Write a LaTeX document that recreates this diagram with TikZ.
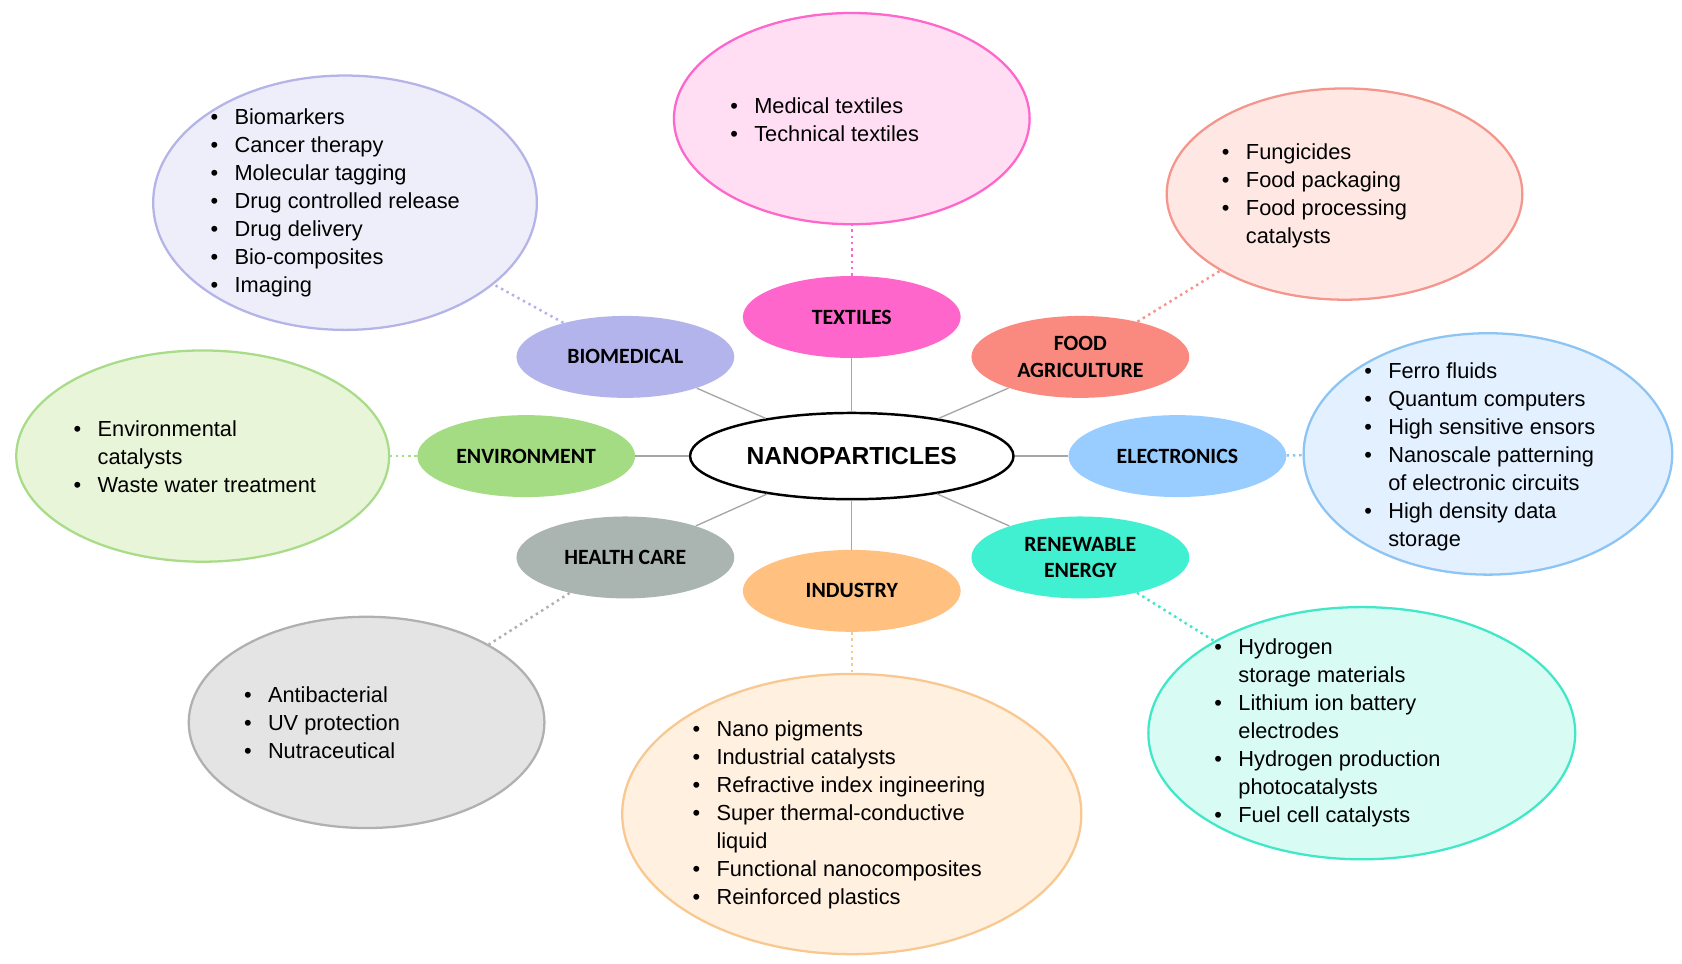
\documentclass[tikz,border=0pt]{standalone}
\usepackage{fontspec}
\setmainfont{Liberation Sans}
\newfontfamily\lab{Carlito}
\usetikzlibrary{shapes.geometric}
\definecolor{fB}{HTML}{EEEEFA}\definecolor{dB}{HTML}{B4B4E8}\definecolor{sBc}{HTML}{B4B4EC}
\definecolor{fT}{HTML}{FFDDF3}\definecolor{dT}{HTML}{FF66CC}\definecolor{sTc}{HTML}{FF66CC}
\definecolor{fF}{HTML}{FFE8E4}\definecolor{dF}{HTML}{F4968C}\definecolor{sFc}{HTML}{FA8A80}
\definecolor{fE}{HTML}{E2F0FF}\definecolor{dE}{HTML}{8CC4F4}\definecolor{sEc}{HTML}{99CCFF}
\definecolor{fV}{HTML}{E8F5D8}\definecolor{dV}{HTML}{A8DC88}\definecolor{sVc}{HTML}{A4DC84}
\definecolor{fH}{HTML}{E4E4E4}\definecolor{dH}{HTML}{B0B0B0}\definecolor{sHc}{HTML}{AAB4B0}
\definecolor{fI}{HTML}{FFF0E0}\definecolor{dI}{HTML}{F8C890}\definecolor{sIc}{HTML}{FFC080}
\definecolor{fR}{HTML}{D8FCF4}\definecolor{dR}{HTML}{40E8C8}\definecolor{sRc}{HTML}{40F0D0}
\newcommand\bu{\textbullet\hspace{0.75em}}
\newcommand\ind{\phantom{\textbullet}\hspace{0.75em}}
\begin{document}
\begin{tikzpicture}[x=0.02cm,y=-0.02cm,
 E/.style args={#1/#2/#3/#4}{ellipse,draw=#4,fill=#3,line width=1.2pt,minimum width=#1*0.04cm,minimum height=#2*0.04cm,inner sep=0pt},
 sm/.style={ellipse,minimum width=202*0.02cm,minimum height=76*0.02cm,inner sep=0pt,font=\lab\bfseries\fontsize{11.5}{14}\selectfont,align=center},
 lst/.style={anchor=west,align=left,font=\fontsize{11.5}{14.8}\selectfont,inner sep=0pt},
 con/.style={draw=gray!70,line width=0.7pt},
 dot/.style={dotted,line width=1.3pt}]
\useasboundingbox (0,0) rectangle (1560,894);
\fill[white] (0,0) rectangle (1560,894);
% big ellipses
\node[E=178/118/fB/dB] (bB) at (320,188) {};
\node[E=165/98/fT/dT] (bT) at (790,110) {};
\node[E=165/98/fF/dF] (bF) at (1247,180) {};
\node[E=171/112/fE/dE] (bE) at (1380,421) {};
\node[E=173/98/fV/dV] (bV) at (188,423) {};
\node[E=165/98/fH/dH] (bH) at (340,670) {};
\node[E=213/130/fI/dI] (bI) at (790,755) {};
\node[E=198/117/fR/dR] (bR) at (1263,680) {};
% small
\node[sm,fill=sBc] (sB) at (580,331) {BIOMEDICAL};
\node[sm,fill=sTc] (sT) at (790,294) {TEXTILES};
\node[sm,fill=sFc] (sF) at (1002,331) {FOOD\\AGRICULTURE};
\node[sm,fill=sVc] (sV) at (488,423) {ENVIRONMENT};
\node[sm,fill=sEc] (sE) at (1092,423) {ELECTRONICS};
\node[sm,fill=sHc] (sH) at (580,517) {HEALTH CARE};
\node[sm,fill=sIc] (sI) at (790,548) {INDUSTRY};
\node[sm,fill=sRc] (sR) at (1002,517) {RENEWABLE\\ENERGY};
\node[ellipse,draw,line width=1.3pt,fill=white,minimum width=300*0.02cm,minimum height=80*0.02cm,inner sep=0pt,font=\bfseries\fontsize{13}{15}\selectfont] (C) at (790,423) {NANOPARTICLES};
% connectors
\foreach \s in {sB,sT,sF,sV,sE,sH,sI,sR} \path[con] (C) -- (\s);
\path[dot,draw=dB] (sB) -- (bB);
\path[dot,draw=dT] (sT) -- (bT);
\path[dot,draw=dF] (sF) -- (bF);
\path[dot,draw=dE] (sE) -- (bE);
\path[dot,draw=dV] (sV) -- (bV);
\path[dot,draw=dH] (sH) -- (bH);
\path[dot,draw=dI] (sI) -- (bI);
\path[dot,draw=dR] (sR) -- (bR);
% lists
\node[lst] (tB) at (195,188) {\bu Biomarkers\\ \bu Cancer therapy\\ \bu Molecular tagging\\ \bu Drug controlled release\\ \bu Drug delivery\\ \bu Bio-composites\\ \bu Imaging};
\node[lst] (tT) at (677,111) {\bu Medical textiles\\ \bu Technical textiles};
\node[lst] (tF) at (1133,182) {\bu Fungicides\\ \bu Food packaging\\ \bu Food processing\\ \ind catalysts};
\node[lst] (tE) at (1265,424) {\bu Ferro fluids\\ \bu Quantum computers\\ \bu High sensitive ensors\\ \bu Nanoscale patterning\\ \ind of electronic circuits\\ \bu High density data\\ \ind storage};
\node[lst] (tV) at (68,424) {\bu Environmental\\ \ind catalysts\\ \bu Waste water treatment};
\node[lst] (tH) at (226,670) {\bu Antibacterial\\ \bu UV protection\\ \bu Nutraceutical};
\node[lst] (tI) at (642,756) {\bu Nano pigments\\ \bu Industrial catalysts\\ \bu Refractive index ingineering\\ \bu Super thermal-conductive\\ \ind liquid\\ \bu Functional nanocomposites\\ \bu Reinforced plastics};
\node[lst] (tR) at (1126,680) {\bu Hydrogen\\ \ind storage materials\\ \bu Lithium ion battery\\ \ind electrodes\\ \bu Hydrogen production\\ \ind photocatalysts\\ \bu Fuel cell catalysts};
\end{tikzpicture}
\end{document}
